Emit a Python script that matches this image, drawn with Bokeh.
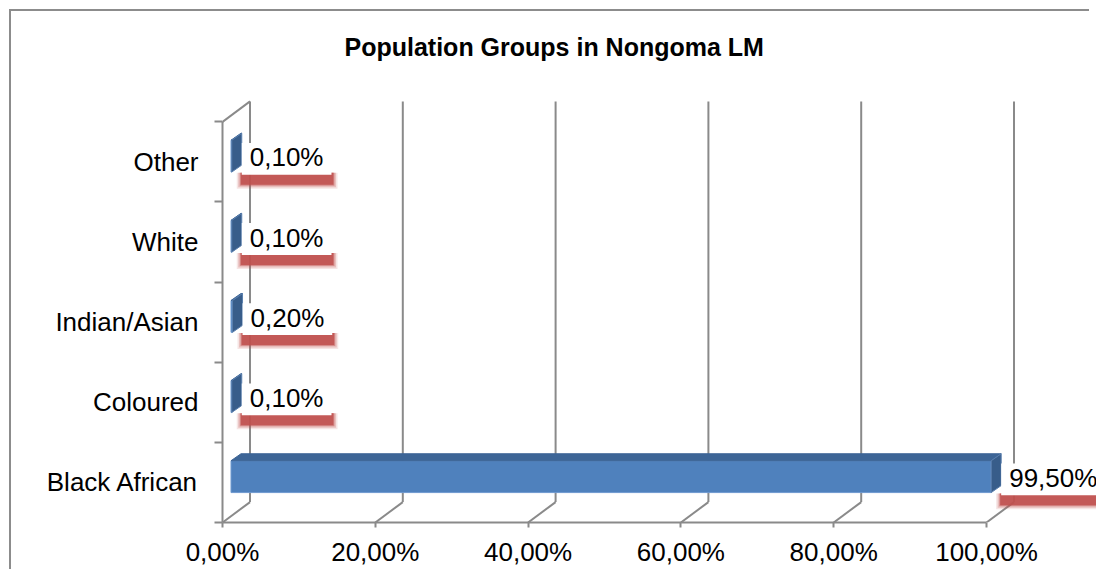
from bokeh.plotting import figure
from bokeh.layouts import column
from bokeh.models import FixedTicker, Range1d
from bokeh.core.properties import value
from bokeh.embed import file_html
from bokeh.resources import INLINE

# ---------------- data ----------------
categories = ["Black African", "Coloured", "Indian/Asian", "White", "Other"]
shares = [99.5, 0.1, 0.2, 0.1, 0.1]
share_labels = ["99,50%", "0,10%", "0,20%", "0,10%", "0,10%"]
x_ticks = [0, 20, 40, 60, 80, 100]
x_tick_labels = ["0,00%", "20,00%", "40,00%", "60,00%", "80,00%", "100,00%"]
title_text = "Population Groups in Nongoma LM"

# ---------------- layout constants ----------------
W, H = 1096, 569
FL, FB, FT = 222, 524, 85          # frame left / bottom / top (canvas px)
PX_X = 7.64                        # px per percent
PX_Y = 80.5                        # px per category band
FONT = "Liberation Sans"
GRID = "#8a8a8a"

def px(d):
    return d / PX_X

def py(d):
    return d / PX_Y

x_end = (W - FL) / PX_X
y_end = (FB - FT) / PX_Y
DX, DY = px(27.5), py(20.5)        # depth of the 3D box
n = len(categories)

p = figure(width=W, height=H, output_backend="svg", toolbar_location=None,
           x_range=Range1d(0, x_end), y_range=Range1d(0, y_end),
           min_border_left=FL, min_border_right=0, min_border_top=FT,
           min_border_bottom=H - FB)
p.border_fill_color = None
p.background_fill_color = None
p.outline_line_color = None
p.xgrid.visible = False
p.ygrid.visible = False

# title
p.title.text = title_text
p.title.align = "left"
p.title.offset = 122
p.title.standoff = 50
p.title.text_font = FONT
p.title.text_font_size = "25px"
p.title.text_font_style = "bold"
p.title.text_color = "black"

# x axis
xa = p.xaxis[0]
xa.ticker = FixedTicker(ticks=x_ticks, minor_ticks=[])
xa.major_label_overrides = {t: l for t, l in zip(x_ticks, x_tick_labels)}
xa.bounds = (x_ticks[0], x_ticks[-1])
xa.axis_line_color = GRID
xa.axis_line_width = 2
xa.major_tick_line_color = GRID
xa.major_tick_line_width = 2
xa.major_tick_out = 5
xa.major_tick_in = 0
xa.major_label_standoff = 9
xa.major_label_text_font = FONT
xa.major_label_text_font_size = "26px"
xa.major_label_text_color = "black"

# y axis (categories)
centers = [i + 0.5 for i in range(n)]
ya = p.yaxis[0]
ya.ticker = FixedTicker(ticks=centers, minor_ticks=list(range(n + 1)))
ya.major_label_overrides = {c: cat for c, cat in zip(centers, categories)}
ya.bounds = (0, n)
ya.axis_line_color = GRID
ya.axis_line_width = 2
ya.major_tick_line_color = None
ya.major_tick_out = 0
ya.major_tick_in = 0
ya.minor_tick_line_color = GRID
ya.minor_tick_line_width = 2
ya.minor_tick_out = 8
ya.minor_tick_in = 0
ya.major_label_standoff = 16
ya.major_label_text_font = FONT
ya.major_label_text_font_size = "26px"
ya.major_label_text_color = "black"

# back wall gridlines, floor diagonals, left-wall top edge
p.segment(x0=[t + DX for t in x_ticks], y0=DY, x1=[t + DX for t in x_ticks], y1=n + DY,
          line_color=GRID, line_width=2)
p.segment(x0=x_ticks, y0=0, x1=[t + DX for t in x_ticks], y1=DY,
          line_color=GRID, line_width=2)
p.segment(x0=[0], y0=[n], x1=[DX], y1=[n + DY], line_color=GRID, line_width=2)

# bars (3D)
bx0 = px(8.5)
ddx, ddy = px(10), py(7)
oy, hh = py(5.8), py(16)
fl, fr, fb, ft = [], [], [], []
top_xs, top_ys, end_xs, end_ys = [], [], [], []
for i, v in enumerate(shares):
    c = centers[i]
    y0, y1 = c + oy - hh, c + oy + hh
    xe = bx0 + v
    fl.append(bx0); fr.append(xe); fb.append(y0); ft.append(y1)
    top_xs.append([bx0, xe, xe + ddx, bx0 + ddx])
    top_ys.append([y1, y1, y1 + ddy, y1 + ddy])
    end_xs.append([xe, xe + ddx, xe + ddx, xe])
    end_ys.append([y0, y0 + ddy, y1 + ddy, y1])

p.quad(left=fl, right=fr, bottom=fb, top=ft, fill_color="#4f81bd",
       line_color="#6f9ad0", line_width=1)
p.patches(top_xs, top_ys, fill_color="#3d6596", line_color="#3d6596", line_width=1)
p.patches(end_xs, end_ys, fill_color="#385d8a", line_color="#5a7fae", line_width=1)

# data labels with white box and red shadow
def text_px(s, size=26):
    w = 0.0
    for ch in s:
        if ch.isdigit():
            w += 0.556
        elif ch == ",":
            w += 0.278
        elif ch == "%":
            w += 0.889
        else:
            w += 0.5
    return w * size

bl, br, bb, bt = [], [], [], []
tx, ty = [], []
for i, v in enumerate(shares):
    c = centers[i]
    left = bx0 + v + ddx
    right = left + px(text_px(share_labels[i]) + 16)
    bl.append(left); br.append(right)
    bb.append(c + py(3) - hh); bt.append(c + py(3) + hh)
    tx.append(left + px(8)); ty.append(c + py(4.5))

# blurred shadow layers
for grow, alpha in [(4, 0.15), (2.5, 0.25), (1, 0.45), (0, 0.85)]:
    p.quad(left=[l - px(1 + grow) for l in bl], right=[r + px(2 + grow) for r in br],
           bottom=[b - py(10 + grow) for b in bb], top=[b + py(2) for b in bb],
           fill_color="#c0504d", fill_alpha=alpha, line_color=None)
p.quad(left=bl, right=br, bottom=bb, top=bt, fill_color="white", line_color=None)
p.text(x=tx, y=ty, text=share_labels, text_font=value(FONT), text_font_size="26px",
       text_baseline="middle", text_align="left", text_color="black")

# chart-area border (left and top edges) painted behind the transparent canvas
border_css = ("linear-gradient(#8c8c8c,#8c8c8c) 9px 9px / 2px 560px no-repeat, "
              "linear-gradient(#8c8c8c,#8c8c8c) 9px 9px / 1080px 2px no-repeat")
page = column(p, styles={"background": border_css})

open("out.html", "w").write(file_html(page, INLINE))
